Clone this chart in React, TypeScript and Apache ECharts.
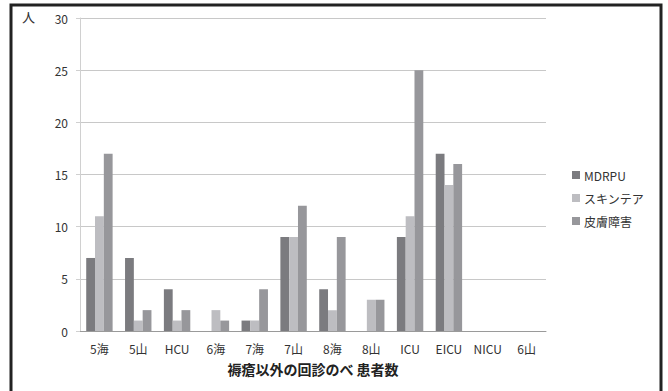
import React, { useEffect, useRef } from "react";
import * as echarts from "echarts";

const categories = ["5海", "5山", "HCU", "6海", "7海", "7山", "8海", "8山", "ICU", "EICU", "NICU", "6山"];
const seriesNames = ["MDRPU", "スキンテア", "皮膚障害"];
const mdrpu = [7, 7, 4, 0, 1, 9, 4, 0, 9, 17, 0, 0];
const skinTear = [11, 1, 1, 2, 1, 9, 2, 3, 11, 14, 0, 0];
const skinDisorder = [17, 2, 2, 1, 4, 12, 9, 3, 25, 16, 0, 0];
const colors = ["#7b7b7f", "#bdbdc1", "#97979b"];

export default function App() {
  const ref = useRef<HTMLDivElement>(null);
  useEffect(() => {
    if (!ref.current) return;
    const chart = echarts.init(ref.current, undefined, { renderer: "svg" });
    const font = "'Noto Sans CJK JP', 'Open Sans', sans-serif";
    const values = [mdrpu, skinTear, skinDisorder];
    chart.setOption({
      animation: false,
      backgroundColor: "#ffffff",
      textStyle: { fontFamily: font },
      grid: { left: 80, right: 122, top: 18, bottom: 60 },
      legend: {
        orient: "vertical",
        left: 567,
        top: 164,
        itemWidth: 8,
        itemHeight: 8,
        itemGap: 11,
        icon: "rect",
        data: seriesNames,
        textStyle: { fontSize: 12, color: "#333", fontFamily: font, padding: [0, 0, 0, -1] },
      },
      graphic: [
        {
          type: "rect",
          shape: { x: 11, y: 5, width: 650, height: 400 },
          style: { fill: "none", stroke: "#222", lineWidth: 3 },
          silent: true,
        },
        {
          type: "text",
          left: 22,
          top: 10,
          style: { text: "人", fontSize: 13, fill: "#333", fontFamily: font },
        },
      ],
      xAxis: {
        type: "category",
        data: categories,
        name: "褥瘡以外の回診のべ 患者数",
        nameLocation: "middle",
        nameGap: 31,
        nameTextStyle: { fontSize: 14, color: "#222", fontWeight: "bold", fontFamily: font },
        axisLine: { lineStyle: { color: "#9a9a9a", width: 1 } },
        axisTick: { show: false },
        axisLabel: { fontSize: 12, color: "#333", margin: 11, fontFamily: font },
      },
      yAxis: {
        type: "value",
        min: 0,
        max: 30,
        interval: 5,
        axisLine: { show: true, lineStyle: { color: "#d0d0d0" } },
        axisTick: { show: true, length: 4, lineStyle: { color: "#d0d0d0" } },
        axisLabel: { fontSize: 12, color: "#333", margin: 12, fontFamily: font },
        splitLine: { lineStyle: { color: "#c8c8c8" } },
      },
      series: seriesNames.map((name, i) => ({
        name,
        type: "bar",
        data: values[i],
        barGap: "0%",
        barCategoryGap: "32%",
        itemStyle: { color: colors[i] },
      })),
    });
    return () => chart.dispose();
  }, []);
  return <div ref={ref} style={{ position: "fixed", left: 0, top: 0, width: 668, height: 391 }} />;
}
